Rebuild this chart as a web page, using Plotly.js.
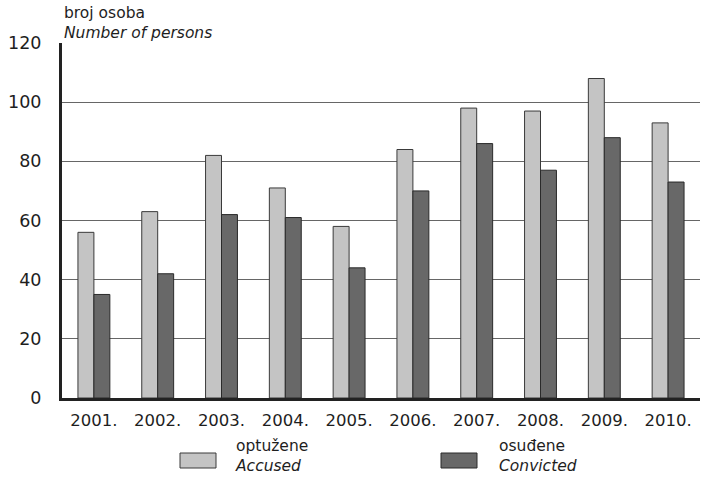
<!DOCTYPE html>
<html><head><meta charset="utf-8">
<script src="https://cdn.plot.ly/plotly-3.0.1.min.js"></script>
<style>html,body{margin:0;padding:0;background:#fff}#c{width:702px;height:477px}</style>
</head><body><div id="c"></div>
<script>
const years = ["2001.","2002.","2003.","2004.","2005.","2006.","2007.","2008.","2009.","2010."];
const accused = [56,63,82,71,58,84,98,97,108,93];
const convicted = [35,42,62,61,44,70,86,77,88,73];
const yTicks = [0,20,40,60,80,100,120];

const F = "DejaVu Sans, Verdana, sans-serif";
const C = "#1e1e1e";
const py = p => (398 - p) / 355;
const px = p => (p - 62) / 638;
const data = [
  {type:"bar", x:years, y:accused, name:"Accused", marker:{color:"#c4c4c4", line:{color:"#3a3a3a", width:1}}, showlegend:false},
  {type:"bar", x:years, y:convicted, name:"Convicted", marker:{color:"#686868", line:{color:"#2a2a2a", width:1}}, showlegend:false}
];
function txt(x, y, t, s) {
  return {xref:"paper", yref:"paper", x:x, y:y, xanchor:"left", yanchor:"middle", align:"left", showarrow:false,
          borderpad:0, text:t, font:{size:s, color:C}};
}
const layout = {
  width:702, height:477,
  margin:{l:62, r:2, t:43, b:79},
  paper_bgcolor:"#fff", plot_bgcolor:"#fff",
  barmode:"group", bargap:0.5, bargroupgap:0,
  font:{family:F, size:16, color:C},
  xaxis:{type:"category", showline:true, linecolor:"#222", linewidth:3, ticks:"", showgrid:false,
         tickfont:{size:16.5, color:C}, ticklabelstandoff:5},
  yaxis:{range:[0,120], tickvals:yTicks, showline:true, linecolor:"#222", linewidth:3, ticks:"",
         gridcolor:"#666", gridwidth:1, zeroline:false, tickfont:{size:17.5, color:C}, ticklabelstandoff:14},
  shapes:[
    {type:"rect", xref:"paper", yref:"paper", x0:px(180), x1:px(216), y0:py(453), y1:py(468),
     fillcolor:"#c4c4c4", line:{color:"#3a3a3a", width:1}},
    {type:"rect", xref:"paper", yref:"paper", x0:px(441), x1:px(477), y0:py(453), y1:py(468),
     fillcolor:"#686868", line:{color:"#2a2a2a", width:1}}
  ],
  annotations:[
    txt(px(63), py(23), "broj osoba<br><i>Number of persons</i>", 15.5),
    txt(px(234), py(456), "optužene<br><i>Accused</i>", 15.5),
    txt(px(498), py(456), "osuđene<br><i>Convicted</i>", 15.5)
  ]
};
Plotly.newPlot("c", data, layout, {displayModeBar:false, staticPlot:true});
</script></body></html>
